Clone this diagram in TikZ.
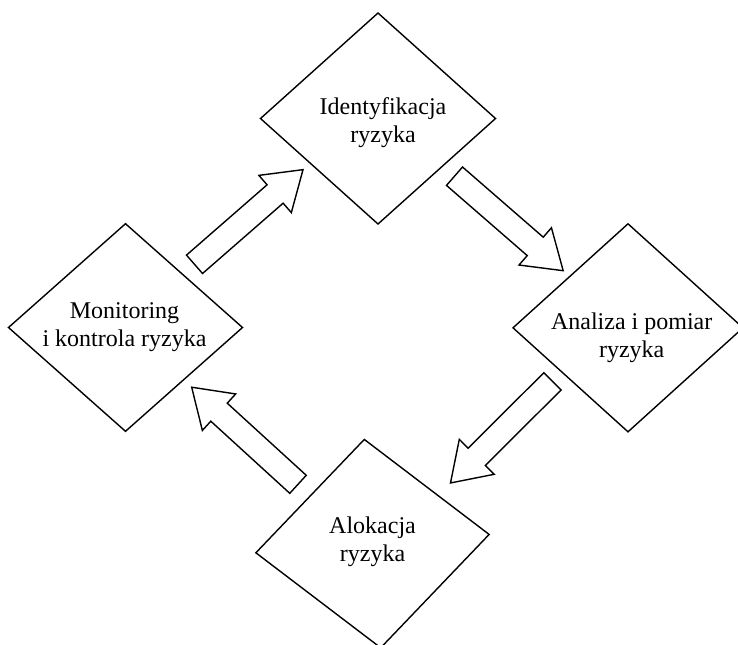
\documentclass[tikz,border=0pt]{standalone}
\usepackage{fontspec}
\setmainfont{Liberation Serif}[Ligatures=CommonOff]
\usetikzlibrary{shapes.geometric,shapes.arrows}
\begin{document}
\begin{tikzpicture}[x=0.5pt,y=-0.5pt,
  stage/.style={draw, diamond, line width=0.7pt, inner sep=0pt, outer sep=0pt},
  stagetext/.style={align=center, inner sep=0pt, font=\fontsize{12}{14}\selectfont},
  flow/.style={draw, single arrow, line width=0.7pt, inner xsep=0pt, inner ysep=5.75pt,
    minimum height=72pt, minimum width=24pt, single arrow head extend=6.25pt,
    single arrow tip angle=67.4, outer sep=0pt, anchor=tail}
]
\useasboundingbox (0,0) rectangle (738,644);
\clip (0,0) rectangle (738,644);

% the four stages of the risk cycle
\node[stage, minimum width=117.5pt, minimum height=105.5pt] (ident) at (378,118.5) {};
\node[stage, minimum width=115pt, minimum height=104pt] (anal) at (628,327.8) {};
\node[stage, minimum width=117pt, minimum height=104.5pt, rotate=4.5] (alok) at (372.5,543.6) {};
\node[stage, minimum width=117pt, minimum height=103.8pt] (monit) at (125.5,327.5) {};

\node[stagetext] (ident-t) at (383,123.3) {\strut Identyfikacja\\\strut ryzyka};
\node[stagetext] (anal-t) at (631.7,337.4) {\strut Analiza i pomiar\\\strut ryzyka};
\node[stagetext] (alok-t) at (372.5,541.9) {\strut Alokacja\\\strut ryzyka};
\node[stagetext] (monit-t) at (124.5,326.9) {\strut Monitoring\\\strut i kontrola ryzyka};

% block arrows leading from one stage to the next
\node[flow, rotate=41.1] (monit-ident) at (194.5,264.3) {};
\node[flow, rotate=-41] (ident-anal) at (454.5,176.2) {};
\node[flow, rotate=224.9] (anal-alok) at (552.5,381.3) {};
\node[flow, rotate=137.6] (alok-monit) at (298,484.3) {};
\end{tikzpicture}
\end{document}
